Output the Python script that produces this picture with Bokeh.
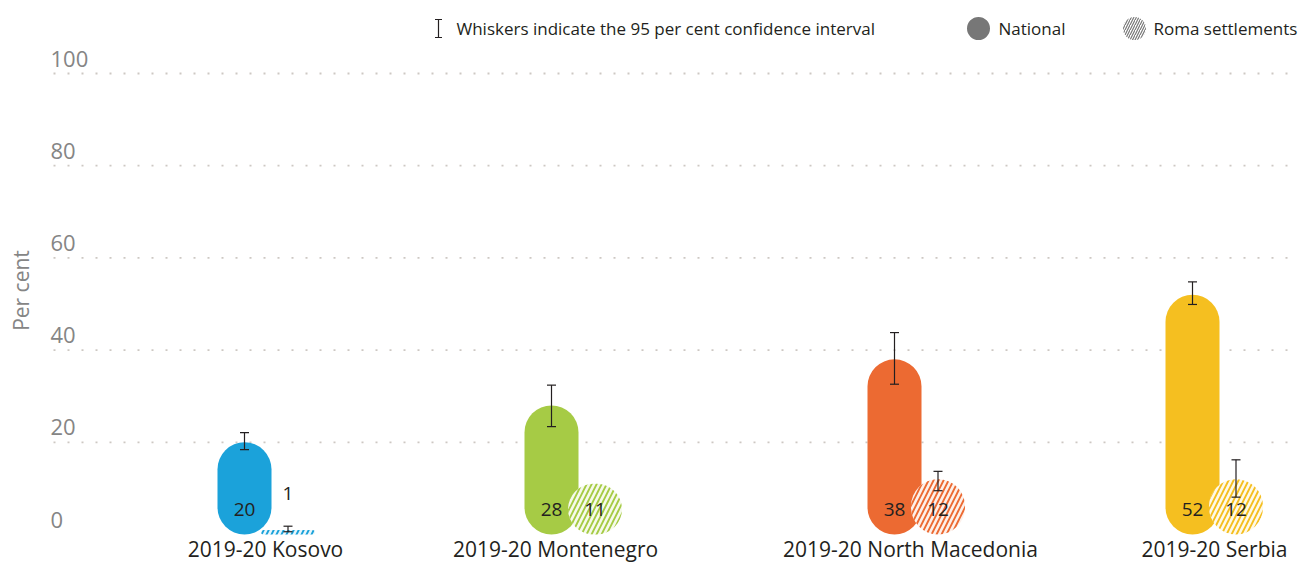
import math
from bokeh.plotting import figure
from bokeh.models import Range1d
from bokeh.core.properties import value
from bokeh.embed import file_html
from bokeh.resources import INLINE

# ---------------- data ----------------
categories = ["2019-20 Kosovo", "2019-20 Montenegro", "2019-20 North Macedonia", "2019-20 Serbia"]
national = [20, 28, 38, 52]
national_lo = [18.4, 23.4, 32.6, 49.9]
national_hi = [22.1, 32.4, 43.8, 54.8]
roma = [1, 11, 12, 12]
roma_lo = [0.6, None, 9.5, 8.1]
roma_hi = [1.8, None, 13.7, 16.2]
y_ticks = [0, 20, 40, 60, 80, 100]
colors = ["#1ba2da", "#a6cb45", "#ec6a32", "#f5bf20"]

# ---------------- layout ----------------
W, H = 1299, 565
Y0_PX = 534          # canvas pixel row of value 0
PX_PER_UNIT = 4.61
GROUP_X = [244, 551, 894, 1192]
ROMA_DX = 43.5
LABEL_X = [265, 555, 910, 1214]
BAR_W = 54
FONT = value("Open Sans")
TXT = "#231f20"
LEG_Y = 28


def tint(hex_color, t=0.1):
    h = hex_color.lstrip("#")
    r, g, b = (int(h[i:i + 2], 16) for i in (0, 2, 4))
    r, g, b = (round(255 - (255 - c) * t) for c in (r, g, b))
    return "#%02x%02x%02x" % (r, g, b)


p = figure(width=W, height=H, output_backend="svg", toolbar_location=None,
           x_range=Range1d(0, W),
           y_range=Range1d(-(H - Y0_PX) / PX_PER_UNIT, Y0_PX / PX_PER_UNIT),
           x_axis_location=None, y_axis_location=None,
           min_border=0, outline_line_color=None,
           background_fill_color="white", border_fill_color="white")
p.grid.visible = False
p.extra_y_ranges = {"px": Range1d(H, 0)}

# dotted gridlines
grid_y = [t for t in y_ticks if t > 0]
p.segment(x0=[53] * len(grid_y), x1=[W] * len(grid_y), y0=grid_y, y1=grid_y,
          line_color="#cdc8c3", line_width=1.8, line_dash="2 12")

# y tick labels (above the gridlines)
p.text(x=[50] * len(y_ticks), y=y_ticks, text=[str(t) for t in y_ticks],
       text_font=FONT, text_font_size="22px", text_color="#858585",
       text_align="left", text_baseline="middle", y_offset=-15)

# axis title
p.text(x=[20], y=[290], text=["Per cent"], angle=math.pi / 2, y_range_name="px",
       text_font=FONT, text_font_size="21px", text_color="#858585",
       text_align="center", text_baseline="middle")

# national pills
p.vbar(x=GROUP_X, width=BAR_W, bottom=0, top=national, border_radius=27,
       fill_color=colors, line_color=None)

# roma hatched pills
roma_x = [gx + ROMA_DX for gx in GROUP_X]
p.vbar(x=roma_x, width=BAR_W, bottom=0, top=roma, border_radius=27,
       fill_color=[tint(c) for c in colors], line_color=None,
       hatch_pattern="/", hatch_color=colors, hatch_weight=1.9, hatch_scale=10)

# value labels
p.text(x=GROUP_X, y=[0] * len(national), text=[str(v) for v in national],
       text_font=FONT, text_font_size="19px", text_color=TXT,
       text_align="center", text_baseline="middle", y_offset=-25)
roma_off = [-41 if v < 5 else -25 for v in roma]
for x, v, off in zip(roma_x, roma, roma_off):
    p.text(x=[x], y=[0], text=[str(v)], text_font=FONT, text_font_size="19px",
           text_color=TXT, text_align="center", text_baseline="middle", y_offset=off)

# whiskers
wx, wlo, whi = [], [], []
for x, lo, hi in zip(GROUP_X, national_lo, national_hi):
    wx.append(x); wlo.append(lo); whi.append(hi)
for x, lo, hi in zip(roma_x, roma_lo, roma_hi):
    if lo is not None:
        wx.append(x); wlo.append(lo); whi.append(hi)
p.segment(x0=wx, x1=wx, y0=wlo, y1=whi, line_color=TXT, line_width=1.2)
p.scatter(x=wx + wx, y=wlo + whi, marker="dash", size=9, line_color=TXT, line_width=1.2)

# category labels
p.text(x=LABEL_X, y=[0] * len(categories), text=categories,
       text_font=FONT, text_font_size="21px", text_color=TXT,
       text_align="center", text_baseline="middle", y_offset=14)

# legend
p.segment(x0=[438], x1=[438], y0=[LEG_Y - 9], y1=[LEG_Y + 9], y_range_name="px",
          line_color=TXT, line_width=1.2)
p.scatter(x=[438, 438], y=[LEG_Y - 9, LEG_Y + 9], marker="dash", size=7, y_range_name="px",
          line_color=TXT, line_width=1.2)
p.text(x=[456], y=[LEG_Y], text=["Whiskers indicate the 95 per cent confidence interval"],
       y_range_name="px", text_font=FONT, text_font_size="17px", text_color=TXT,
       text_align="left", text_baseline="middle")
p.scatter(x=[978], y=[LEG_Y], size=23, marker="circle", y_range_name="px",
          fill_color="#777777", line_color=None)
p.text(x=[998], y=[LEG_Y], text=["National"], y_range_name="px",
       text_font=FONT, text_font_size="17px", text_color=TXT,
       text_align="left", text_baseline="middle")
p.scatter(x=[1134], y=[LEG_Y], size=23, marker="circle", y_range_name="px",
          fill_color="white", line_color=None,
          hatch_pattern="/", hatch_color="#777777", hatch_weight=1.2, hatch_scale=5)
p.text(x=[1153], y=[LEG_Y], text=["Roma settlements"], y_range_name="px",
       text_font=FONT, text_font_size="17px", text_color=TXT,
       text_align="left", text_baseline="middle")

open("out.html", "w").write(file_html(p, INLINE))
